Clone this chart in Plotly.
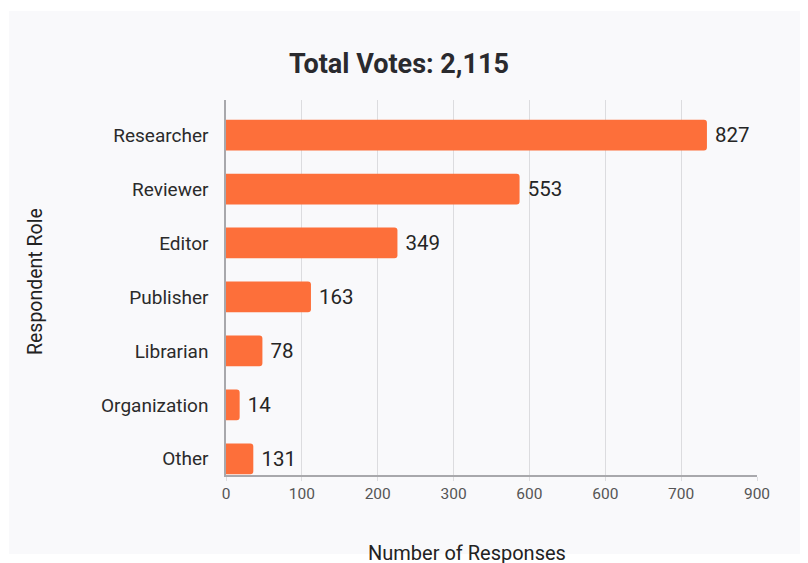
import plotly.graph_objects as go

roles = ["Researcher", "Reviewer", "Editor", "Publisher", "Librarian", "Organization", "Other"]
# bar lengths as drawn against the axis
bar_lengths = [634, 387, 226, 112, 48, 18, 36]
# value labels printed beside the bars
label_values = [827, 553, 349, 163, 78, 14, 131]
tick_vals = [0, 100, 200, 300, 400, 500, 600, 700]
tick_text = ["0", "100", "200", "300", "600", "600", "700", "900"]

L, R, T, B = 218, 749, 92, 467
PW, PH = R - L, B - T

fig = go.Figure()
fig.add_trace(go.Bar(
    y=roles, x=bar_lengths, orientation="h",
    marker=dict(color="#FD6F3A", line=dict(width=0)),
    text=["\u00a0" + str(v) for v in label_values], textposition="outside",
    textfont=dict(family="Roboto, sans-serif", size=20.5, color="#252525"),
    cliponaxis=False, hoverinfo="skip",
))

fig.update_layout(
    width=808, height=563,
    margin=dict(l=L, r=808 - R, t=T, b=563 - B),
    paper_bgcolor="white", plot_bgcolor="rgba(0,0,0,0)",
    bargap=0.43, barcornerradius=3, showlegend=False,
    font=dict(family="Roboto, sans-serif", color="#333"),
    title=dict(text="<b>Total Votes: 2,115</b>", x=391 / 808, xanchor="center",
               y=1 - 56 / 563, yanchor="middle",
               font=dict(family="Roboto, sans-serif", size=27, color="#2a2a2e")),
    shapes=[dict(type="rect", xref="paper", yref="paper", layer="below",
                 x0=(1 - L) / PW, x1=(812 - L) / PW,
                 y0=(B - 546) / PH, y1=(B - 3) / PH,
                 fillcolor="#f9f9fb", line=dict(width=0))],
    annotations=[
        dict(text="Respondent Role", xref="paper", yref="paper",
             x=(27 - L) / PW, y=(B - 274) / PH, textangle=-90,
             showarrow=False, xanchor="center", yanchor="middle",
             font=dict(size=19.5, color="#222")),
        dict(text="Number of Responses", xref="paper", yref="paper",
             x=(459 - L) / PW, y=(B - 545) / PH,
             showarrow=False, xanchor="center", yanchor="middle",
             font=dict(size=20, color="#222")),
    ],
)
fig.update_xaxes(range=[0, 700], tickvals=tick_vals, ticktext=tick_text,
                 showgrid=True, gridcolor="#dcdcdf", gridwidth=1,
                 showline=True, linecolor="#a8a8ac", linewidth=1.5,
                 ticks="outside", ticklen=4, tickcolor="#dcdcdf",
                 tickfont=dict(size=15.5, color="#555"), zeroline=False)
fig.update_yaxes(range=[6.3, -0.65], showgrid=False,
                 showline=True, linecolor="#a8a8ac", linewidth=1.5,
                 ticks="", ticklabelstandoff=12,
                 tickfont=dict(size=19, color="#2b2b2b"))

fig.write_html("out.html")
